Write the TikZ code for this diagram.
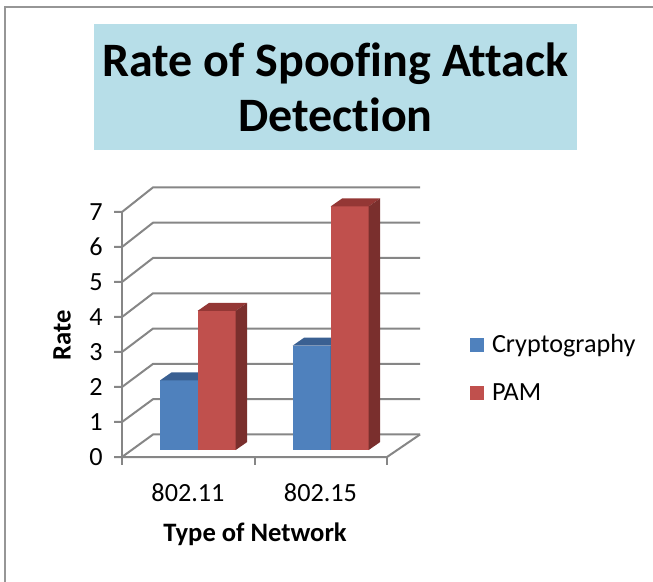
\documentclass[tikz,border=0pt]{standalone}
\usepackage{fontspec}
\setmainfont{Carlito}[Ligatures=NoCommon]
\usetikzlibrary{positioning}
\definecolor{gridgray}{RGB}{134,134,134}
\definecolor{framegray}{RGB}{150,150,150}
\definecolor{titlefill}{RGB}{183,222,232}
\definecolor{cryFront}{RGB}{79,129,189}
\definecolor{cryTop}{RGB}{58,96,146}
\definecolor{crySide}{RGB}{50,82,125}
\definecolor{pamFront}{RGB}{192,80,77}
\definecolor{pamTop}{RGB}{148,55,53}
\definecolor{pamSide}{RGB}{122,47,45}

\begin{document}
\begin{tikzpicture}[x=0.5pt,y=-0.5pt,
 grid/.style={draw=gridgray,line width=1pt},
 lbl/.style={font=\fontsize{13.1}{15}\selectfont,inner sep=0pt},
 axtitle/.style={inner sep=0pt,font=\fontsize{13.3}{15}\selectfont\bfseries},
 key/.style={minimum size=7pt,inner sep=0pt}]
\useasboundingbox (0,0) rectangle (653,582);
\draw[framegray,line width=1pt] (5,700) -- (5,7) -- (700,7);
\node[fill=titlefill,minimum width=241.5pt,minimum height=63pt,align=center,
 font=\fontsize{24}{27.5}\selectfont\bfseries] (title) at (335.5,87) {Rate of Spoofing Attack\\Detection};
% walls and floor
\foreach \v in {0,...,7}
 \draw[grid] (114,{457-35*\v}) -- (122,{457-35*\v}) -- (153,{434.5-35.3*\v}) -- (420,{434.5-35.3*\v});
\draw[grid] (122,212) -- (122,465);
\draw[grid] (122,457) -- (387,457) -- (420,434.5);
\foreach \x in {254.5,387} \draw[grid] (\x,457) -- (\x,465);
% bars
\foreach \xl/\v/\s in {160/2/cry,292.7/3/cry,197.7/4/pam,330.7/7/pam}{
 \fill[\s Front] (\xl,450) rectangle ({\xl+38},{450-34.8*\v});
 \fill[\s Top] (\xl,{450-34.8*\v}) -- ++(11.5,-8) -- ++(38,0) -- ++(-11.5,8) -- cycle;
 \fill[\s Side] ({\xl+38},450) -- ++(11.5,-8) -- ({\xl+49.5},{442-34.8*\v}) -- ({\xl+38},{450-34.8*\v}) -- cycle;
}
% axis labels
\foreach \v in {0,...,7}
 \node[lbl,anchor=east] (ytick\v) at (103,{457-35*\v}) {\v};
\node[axtitle,rotate=90] (ytitle) at (62,335) {Rate};
\node[lbl] (cat1) at (188,493) {802.11};
\node[lbl] (cat2) at (320.5,493) {802.15};
\node[axtitle] (xtitle) at (255,534) {Type of Network};
% legend
\node[key,fill=cryFront] (keycry) at (477.2,345.2) {};
\node[lbl,anchor=base west] (txtcry) at ([xshift=3.5pt]keycry.south east) {Cryptography};
\node[key,fill=pamFront] (keypam) at (477.2,392.9) {};
\node[lbl,anchor=base west] (txtpam) at ([xshift=3.5pt]keypam.south east) {PAM};
\end{tikzpicture}
\end{document}
